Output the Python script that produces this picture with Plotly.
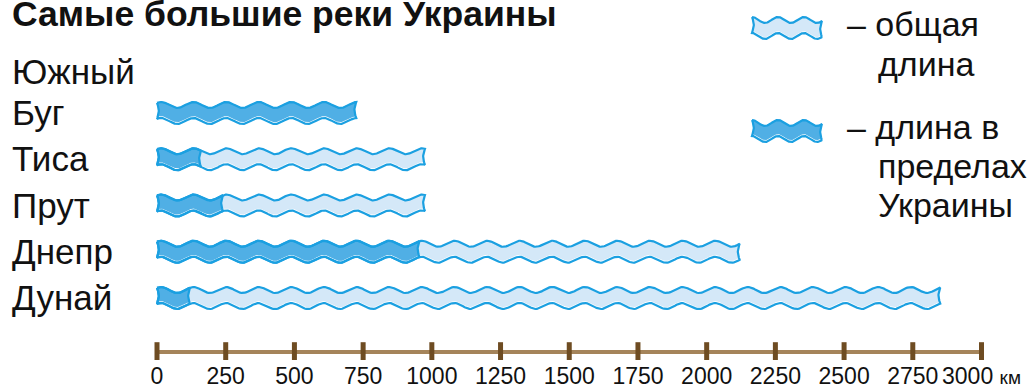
import numpy as np
import plotly.graph_objects as go

# ---------------- data ----------------
rivers = ["Дунай", "Днепр", "Прут", "Тиса", "Южный Буг"]
total_km = [2850, 2120, 975, 975, 725]
ukraine_km = [120, 955, 240, 160, 725]
tick_vals = [0, 250, 500, 750, 1000, 1250, 1500, 1750, 2000, 2250, 2500, 2750, 3000]
tick_text = [str(v) for v in tick_vals[:-1]] + ["3000 <span style='font-size:19px'>км</span>"]
title_text = "Самые большие реки Украины"
legend_total_lines = ["– общая", "длина"]
legend_ukr_lines = ["– длина в", "пределах", "Украины"]

# ---------------- layout constants ----------------
W, H = 1035, 389
PLOT_H = 360                     # plot area height (px)
X0_PX, X3000_PX = 157, 981.5
KM_PX = (X3000_PX - X0_PX) / 3000
ROW0_PX, ROW_STEP = 298, 46.25   # pixel centre of first river, spacing


def row_to_px(r):
    return ROW0_PX - ROW_STEP * r


def px_to_row(p):
    return (ROW0_PX - p) / ROW_STEP


def px_to_paper(p):
    return 1 - p / PLOT_H


LINE_BLUE = "#1ba0e1"
LIGHT_FILL = "#d4e8f8"
DARK_FILL = "#50afe5"
BROWN = "#a5845a"
DARK_BROWN = "#6e4c22"
FONT = "Arial, Liberation Sans, sans-serif"
TEXT_COL = "#111111"

HALF_T = 8.0 / ROW_STEP          # half ribbon thickness
AMP = 3.0 / ROW_STEP             # wave amplitude (edges in phase)
PERIOD_KM = 32.6 / KM_PX
PHASE_KM = 4.0 / KM_PX
CAP_KM = 1.8 / KM_PX
FILL_SHIFT = 1.3 / ROW_STEP      # fill slightly offset upward, as in the print


def wave_shape(x0, x1, row, half_t, period=PERIOD_KM, phase=PHASE_KM, n=500):
    xs = np.linspace(x0, x1, n)
    off = AMP * np.cos(2 * np.pi * (xs - phase) / period)
    top = row + half_t + off
    bot = row - half_t + off
    t = np.linspace(0, 1, 20)
    rx = x1 - CAP_KM * np.sin(np.pi * t)
    ry = top[-1] + (bot[-1] - top[-1]) * t
    lx = x0 + CAP_KM * np.sin(np.pi * t)
    ly = bot[0] + (top[0] - bot[0]) * t
    X = np.concatenate([xs, rx, xs[::-1], lx])
    Y = np.concatenate([top, ry, bot[::-1], ly])
    return X, Y


fig = go.Figure()


def add_fill(X, Y, color):
    fig.add_trace(go.Scatter(x=X, y=Y, fill="toself", fillcolor=color,
                             mode="lines", line=dict(width=0, color=color),
                             hoverinfo="skip", showlegend=False))


def add_outline(X, Y):
    fig.add_trace(go.Scatter(x=X, y=Y, mode="lines",
                             line=dict(width=2.2, color=LINE_BLUE),
                             hoverinfo="skip", showlegend=False))


def add_river(row, total, inside):
    X, Y = wave_shape(0, total, row + FILL_SHIFT, HALF_T - 0.6 / ROW_STEP)
    add_fill(X, Y, LIGHT_FILL)
    X, Y = wave_shape(0, inside, row + FILL_SHIFT, HALF_T - 0.6 / ROW_STEP)
    add_fill(X, Y, DARK_FILL)
    X, Y = wave_shape(0, total, row, HALF_T)
    add_outline(X, Y)
    if inside < total:
        X, Y = wave_shape(0, inside, row, HALF_T)
        add_outline(X, Y)


for i, (tot, ukr) in enumerate(zip(total_km, ukraine_km)):
    add_river(i, tot, ukr)

# legend glyphs
LEG_X0 = (752 - X0_PX) / KM_PX
LEG_LEN = 70 / KM_PX
LEG_PERIOD = 26 / KM_PX


def add_sample(row, dark):
    X, Y = wave_shape(0, LEG_LEN, row + FILL_SHIFT, HALF_T - 0.6 / ROW_STEP, LEG_PERIOD, 0)
    add_fill(X + LEG_X0, Y, DARK_FILL if dark else LIGHT_FILL)
    X, Y = wave_shape(0, LEG_LEN, row, HALF_T, LEG_PERIOD, 0)
    add_outline(X + LEG_X0, Y)


add_sample(px_to_row(28), False)
add_sample(px_to_row(131), True)

# scale bar
AXIS_ROW = px_to_row(352)
fig.add_trace(go.Scatter(x=[tick_vals[0], tick_vals[-1]], y=[AXIS_ROW, AXIS_ROW],
                         mode="lines", line=dict(color=BROWN, width=4),
                         hoverinfo="skip", showlegend=False))
fig.add_trace(go.Scatter(x=tick_vals, y=[AXIS_ROW] * len(tick_vals), mode="markers",
                         marker=dict(symbol="line-ns", size=14,
                                     line=dict(width=5, color=DARK_BROWN)),
                         hoverinfo="skip", showlegend=False))


def add_text(x_px, mid_px, text, size=35, bold=False):
    fig.add_annotation(x=x_px / W, xref="paper", xanchor="left",
                       y=px_to_paper(mid_px), yref="paper", yanchor="middle",
                       text=("<b>%s</b>" % text) if bold else text,
                       showarrow=False, align="left",
                       font=dict(family=FONT, size=size, color=TEXT_COL))


# river labels (box middle ~2.5 px above cap centre)
for i, name in enumerate(rivers):
    cap_c = row_to_px(i) + 2
    words = name.split(" ")
    if len(words) == 2:
        add_text(10, cap_c - 2.5 - 41, words[0])
        add_text(10, cap_c - 2.5, words[1])
    else:
        add_text(10, cap_c - 2.5, name)

# title
add_text(10, 14, title_text, size=35.5, bold=True)

# legend texts
add_text(845, 24, legend_total_lines[0], size=34)
add_text(876, 64, legend_total_lines[1], size=34)
add_text(845, 127, legend_ukr_lines[0], size=34)
add_text(876, 166, legend_ukr_lines[1], size=34)
add_text(876, 205, legend_ukr_lines[2], size=34)

fig.update_layout(
    width=W, height=H,
    margin=dict(l=0, r=0, t=0, b=H - PLOT_H),
    paper_bgcolor="white", plot_bgcolor="white",
    showlegend=False,
    xaxis=dict(range=[-X0_PX / KM_PX, (W - X0_PX) / KM_PX],
               tickvals=tick_vals, ticktext=tick_text, ticks="",
               showgrid=False, zeroline=False, showline=False,
               tickfont=dict(family=FONT, size=23, color=TEXT_COL),
               fixedrange=True),
    yaxis=dict(range=[px_to_row(PLOT_H), px_to_row(0)], visible=False,
               showgrid=False, zeroline=False, fixedrange=True),
)

fig.write_html("out.html", config={"displayModeBar": False},
               post_script="document.body.style.margin='0';document.body.style.overflow='hidden';")
